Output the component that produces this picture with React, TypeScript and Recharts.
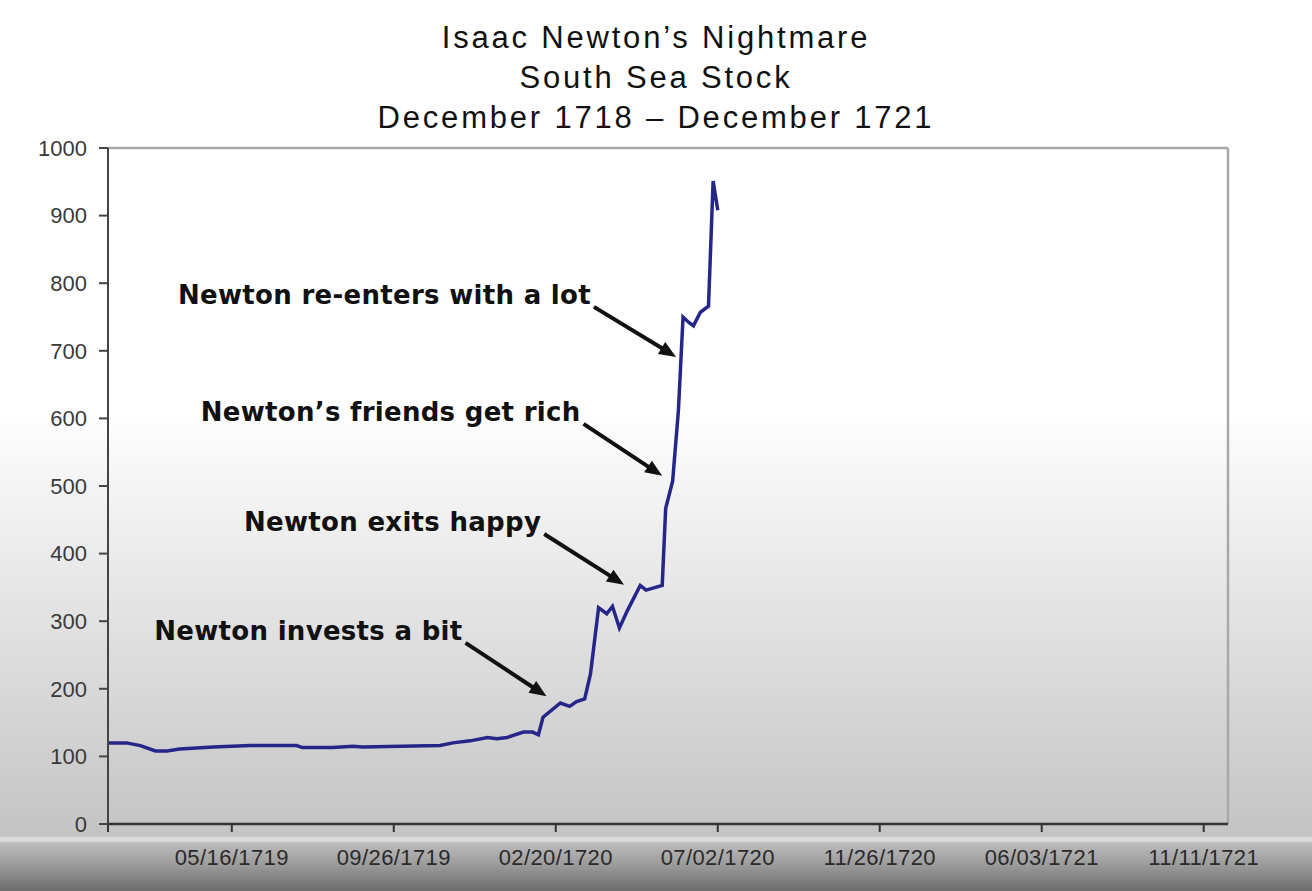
import { LineChart, Line, XAxis, YAxis, ReferenceLine } from "recharts";

// days since the start of the series (Dec 1718) and the stock price
const days = [
  0, 16, 28, 41, 51, 62, 73, 91, 123, 163, 168, 194, 212, 220, 287, 298, 313, 328, 336, 345, 359, 367,
  372, 376, 391, 399, 405, 412, 417, 424, 431, 436, 442, 449, 460, 465, 479, 482, 488, 493, 497, 502,
  506, 512, 519, 523, 527,
];
const prices = [
  120, 120, 116, 108, 108, 111, 112, 114, 116, 116, 113, 113, 115, 114, 116, 120, 123, 128, 126, 128, 136, 136,
  132, 158, 179, 174, 181, 185, 222, 320, 311, 322, 290, 316, 353, 346, 353, 467, 507, 612, 750, 742,
  737, 757, 766, 951, 908,
];

const dayTicks = [0, 107, 247, 387, 527, 667, 807, 947];
const dayTickLabels = ["", "05/16/1719", "09/26/1719", "02/20/1720", "07/02/1720", "11/26/1720", "06/03/1721", "11/11/1721"];
const priceTicks = [0, 100, 200, 300, 400, 500, 600, 700, 800, 900, 1000];

const titleLines = ["Isaac Newton\u2019s Nightmare", "South Sea Stock", "December 1718 \u2013 December 1721"];

// callouts: text, arrow tail (day, price), arrow head (day, price)
const noteTexts = ["Newton invests a bit", "Newton exits happy", "Newton\u2019s friends get rich", "Newton re-enters with a lot"];
const noteFrom = [
  [309, 268],
  [377, 429],
  [411, 592],
  [420, 765],
];
const noteTo = [
  [379, 189],
  [446, 354],
  [479, 515],
  [491, 691],
];

const data = days.map((d, i) => ({ day: d, price: prices[i] }));

function arrowShape(text: string) {
  return (p: any) => {
    const { x1, y1, x2, y2 } = p;
    const dx = x2 - x1;
    const dy = y2 - y1;
    const len = Math.sqrt(dx * dx + dy * dy);
    const ux = dx / len;
    const uy = dy / len;
    const headLen = 17;
    const headW = 7;
    const bx = x2 - ux * headLen;
    const by = y2 - uy * headLen;
    const pts = [
      `${x2},${y2}`,
      `${bx - uy * headW},${by + ux * headW}`,
      `${bx + uy * headW},${by - ux * headW}`,
    ].join(" ");
    return (
      <g>
        <text
          x={x1 - 3}
          y={y1 - 3}
          textAnchor="end"
          fontFamily="'DejaVu Sans', Verdana, sans-serif"
          fontWeight="bold"
          fontSize={26}
          letterSpacing={0.3}
          fill="#111"
        >
          {text}
        </text>
        <line x1={x1} y1={y1} x2={bx + ux * 2} y2={by + uy * 2} stroke="#111" strokeWidth={4} />
        <polygon points={pts} fill="#111" />
      </g>
    );
  };
}

export default function App() {
  return (
    <div
      style={{
        position: "absolute",
        left: 0,
        top: 0,
        width: 1312,
        height: 891,
        overflow: "hidden",
        background:
          "linear-gradient(to bottom, #ffffff 0px, #ffffff 410px, #e2e2e2 620px, #c4c4c4 836px, #dcdcdc 838px, #dcdcdc 841px, #bcbcbc 843px, #999999 866px, #6c6c6c 891px)",
      }}
    >
      <div
        style={{
          position: "absolute",
          top: 18,
          left: 0,
          width: 1312,
          textAlign: "center",
          fontFamily: "'Liberation Sans', Arial, sans-serif",
          fontSize: 31,
          lineHeight: "40px",
          letterSpacing: 2.8,
          color: "#111",
        }}
      >
        {titleLines.map((t) => (
          <div key={t}>{t}</div>
        ))}
      </div>
      <LineChart
        width={1312}
        height={891}
        data={data}
        margin={{ top: 148, right: 84, bottom: 0, left: 0 }}
        style={{ position: "absolute", left: 0, top: 0 }}
      >
        <XAxis
          dataKey="day"
          type="number"
          domain={[0, 968]}
          ticks={dayTicks}
          interval={0}
          height={67}
          tickSize={8}
          tickMargin={17}
          tickFormatter={(v: number) => dayTickLabels[dayTicks.indexOf(v)] ?? ""}
          axisLine={{ stroke: "#333", strokeWidth: 2.5 }}
          tickLine={{ stroke: "#333", strokeWidth: 2 }}
          tick={{ fill: "#2a2a2a", fontSize: 22, fontFamily: "'Liberation Sans', Arial, sans-serif", letterSpacing: 0.4 }}
        />
        <YAxis
          type="number"
          domain={[0, 1000]}
          ticks={priceTicks}
          interval={0}
          width={108}
          tickSize={9}
          tickMargin={12}
          axisLine={{ stroke: "#444", strokeWidth: 2 }}
          tickLine={{ stroke: "#444", strokeWidth: 2 }}
          tick={{ fill: "#3a3a3a", fontSize: 22, fontFamily: "'Liberation Sans', Arial, sans-serif" }}
        />
        <ReferenceLine y={1000} stroke="#a8a8a8" strokeWidth={2.5} />
        <ReferenceLine x={968} stroke="#a8a8a8" strokeWidth={2.5} />
        <Line
          type="linear"
          dataKey="price"
          stroke="#26268a"
          strokeWidth={3.5}
          dot={false}
          isAnimationActive={false}
        />
        {noteTexts.map((t, i) => (
          <ReferenceLine
            key={t}
            segment={[
              { x: noteFrom[i][0], y: noteFrom[i][1] },
              { x: noteTo[i][0], y: noteTo[i][1] },
            ]}
            shape={arrowShape(t)}
          />
        ))}
      </LineChart>
    </div>
  );
}
